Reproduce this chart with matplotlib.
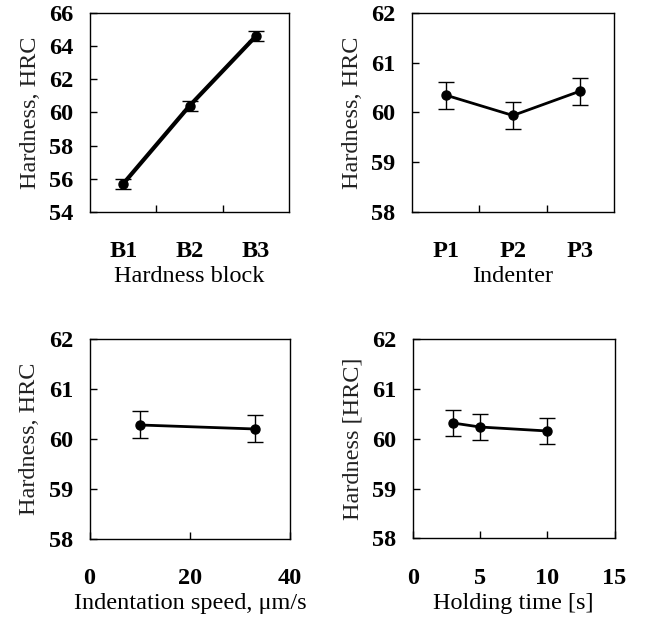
#!/usr/bin/env python3
"""Hardness (HRC) vs block, indenter, indentation speed and holding time."""

import matplotlib

matplotlib.use("Agg")
import matplotlib.pyplot as plt

plt.rcParams["font.family"] = ["Liberation Serif", "DejaVu Serif"]

# panel a: hardness block
BLOCKS = ["B1", "B2", "B3"]
BLOCK_HRC = [55.7, 60.4, 64.6]
BLOCK_ERR = [0.3, 0.3, 0.3]

# panel b: indenter
INDENTERS = ["P1", "P2", "P3"]
INDENTER_HRC = [60.35, 59.94, 60.43]
INDENTER_ERR = [0.27, 0.27, 0.27]

# panel c: indentation speed (um/s)
SPEED = [10, 33]
SPEED_HRC = [60.28, 60.2]
SPEED_ERR = [0.27, 0.27]

# panel d: holding time (s)
HOLD = [3, 5, 10]
HOLD_HRC = [60.32, 60.24, 60.16]
HOLD_ERR = [0.27, 0.27, 0.27]

TICK_FS = 17.5
LABEL_FS = 17.5
XPAD = 21


def style_axes(ax, ylim, yticks, ylabel, xlabel):
    ax.set_ylim(*ylim)
    ax.set_yticks(yticks)
    ax.set_ylabel(ylabel, fontsize=LABEL_FS, labelpad=6, color="#222222")
    ax.set_xlabel(xlabel, fontsize=LABEL_FS, labelpad=3)
    ax.tick_params(axis="both", direction="in", length=5, width=1,
                   labelsize=TICK_FS)
    ax.tick_params(axis="y", pad=12)
    ax.tick_params(axis="x", pad=XPAD)
    for lab in ax.get_yticklabels() + ax.get_xticklabels():
        lab.set_fontweight("bold")
    for sp in ax.spines.values():
        sp.set_linewidth(1.0)


def categorical(ax, names, values, errs, lw):
    pos = [i + 0.5 for i in range(len(names))]
    ax.errorbar(pos, values, yerr=errs, color="black", lw=lw, marker="o",
                ms=6.5, capsize=6, elinewidth=1, capthick=1)
    ax.set_xlim(0, len(names))
    ax.set_xticks(range(1, len(names)))
    ax.set_xticklabels([])
    ax.set_xticks(pos, minor=True)
    ax.set_xticklabels(names, minor=True)
    ax.tick_params(axis="x", which="minor", length=0, pad=XPAD,
                   labelsize=TICK_FS)
    for lab in ax.get_xticklabels(minor=True):
        lab.set_fontweight("bold")


fig = plt.figure(figsize=(6.49, 6.26), dpi=100)

ax1 = fig.add_axes([0.1387, 0.6613, 0.3066, 0.318])
categorical(ax1, BLOCKS, BLOCK_HRC, BLOCK_ERR, lw=3)
style_axes(ax1, (54, 66), range(54, 67, 2), "Hardness, HRC", "Hardness block")

ax2 = fig.add_axes([0.6348, 0.6613, 0.311, 0.318])
categorical(ax2, INDENTERS, INDENTER_HRC, INDENTER_ERR, lw=2)
style_axes(ax2, (58, 62), range(58, 63), "Hardness, HRC", "Indenter")

ax3 = fig.add_axes([0.138, 0.139, 0.309, 0.3195])
ax3.errorbar(SPEED, SPEED_HRC, yerr=SPEED_ERR, color="black", lw=2,
             marker="o", ms=6.5, capsize=6, elinewidth=1, capthick=1)
ax3.set_xlim(0, 40)
ax3.set_xticks([0, 20, 40])
style_axes(ax3, (58, 62), range(58, 63), "Hardness, HRC",
           "Indentation speed, \u03bcm/s")

ax4 = fig.add_axes([0.636, 0.1398, 0.311, 0.318])
ax4.errorbar(HOLD, HOLD_HRC, yerr=HOLD_ERR, color="black", lw=2,
             marker="o", ms=6.5, capsize=6, elinewidth=1, capthick=1)
ax4.set_xlim(0, 15)
ax4.set_xticks([0, 5, 10, 15])
style_axes(ax4, (58, 62), range(58, 63), "Hardness [HRC]",
           "Holding time [s]")

fig.savefig("out.png", dpi=100)
plt.close(fig)
